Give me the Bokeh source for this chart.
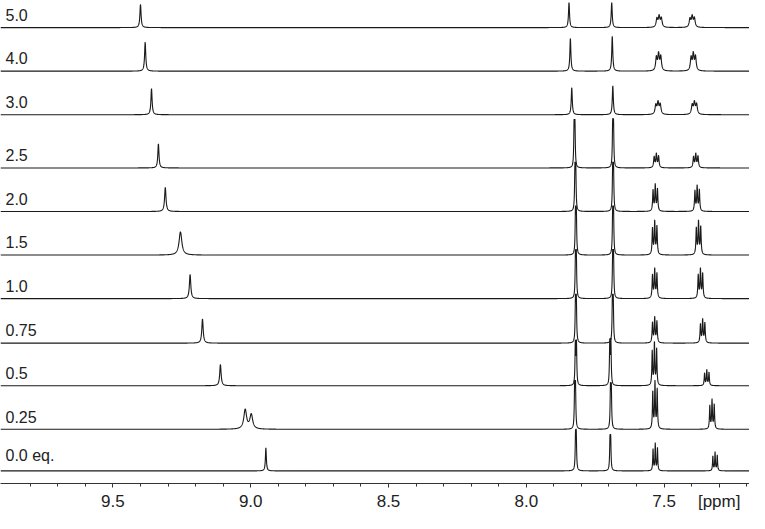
import numpy as np
from bokeh.plotting import figure
from bokeh.models import Range1d, FixedTicker, ColumnDataSource
from bokeh.core.properties import value
from bokeh.embed import file_html
from bokeh.resources import INLINE

# ---- data (ppm, heights in px-like units) ----
row_labels = ["5.0", "4.0", "3.0", "2.5", "2.0", "1.5", "1.0", "0.75", "0.5", "0.25", "0.0 eq."]
row_baseline = [471, 426, 381, 326, 281, 236, 191, 145, 101, 56, 13]

# downfield singlet (shifts with titrant), second component only for 0.25 eq.
nh_ppm = [9.400, 9.383, 9.360, 9.335, 9.310, 9.255, 9.220, 9.175, 9.110, 9.020, 8.945]
nh_height = [24, 30, 27, 25, 25, 24, 25, 25, 22, 20, 24]
nh_width = [0.0025, 0.0025, 0.0025, 0.0025, 0.003, 0.006, 0.003, 0.003, 0.003, 0.006, 0.002]
nh2_ppm = [9.0, 9.0, 9.0, 9.0, 9.0, 9.0, 9.0, 9.0, 9.0, 8.998, 9.0]
nh2_height = [0, 0, 0, 0, 0, 0, 0, 0, 0, 15, 0]

# singlet near 7.83 ppm
ha_ppm = [7.845, 7.840, 7.835, 7.825, 7.822, 7.820, 7.820, 7.820, 7.820, 7.823, 7.820]
ha_height = [26, 34, 28, 50, 50, 50, 50, 50, 50, 50, 40]
# singlet near 7.69 ppm
hb_ppm = [7.690, 7.688, 7.686, 7.685, 7.685, 7.685, 7.685, 7.686, 7.695, 7.693, 7.695]
hb_height = [26, 36, 30, 50, 50, 50, 50, 50, 52, 48, 35]
# small splitting of the two singlets (0 = single line)
sing_split = [0, 0, 0, 0.003, 0.003, 0.003, 0.003, 0.003, 0.004, 0.003, 0.0025]
# multiplet near 7.53 ppm
hc_ppm = [7.518, 7.520, 7.522, 7.528, 7.532, 7.534, 7.534, 7.534, 7.535, 7.533, 7.532]
hc_height = [11, 17, 12, 14, 27, 34, 30, 26, 44, 48, 28]
# multiplet upfield (shifts with titrant)
hd_ppm = [7.398, 7.394, 7.390, 7.385, 7.380, 7.375, 7.368, 7.360, 7.345, 7.326, 7.315]
hd_height = [11, 17, 12, 14, 26, 34, 30, 24, 16, 30, 19]
mult_width = [0.0032, 0.003, 0.0032, 0.0022, 0.0018, 0.0018, 0.0018, 0.0018, 0.0016, 0.0016, 0.0014]
mult_split = 0.008
mult_ratio = [0.85, 1.0, 0.8]

x_left, x_right = 9.908, 7.19
major_ticks = [9.5, 9.0, 8.5, 8.0, 7.5, 7.3]
minor_ticks = [9.8, 9.7, 9.6, 9.4, 9.3, 9.2, 9.1, 8.9, 8.8, 8.7, 8.6,
               8.4, 8.3, 8.2, 8.1, 7.9, 7.8, 7.7, 7.6, 7.4, 7.2]
tick_text = {9.5: "9.5", 9.0: "9.0", 8.5: "8.5", 8.0: "8.0", 7.5: "7.5", 7.3: "[ppm]"}

ppm = np.linspace(x_left, x_right, 5000)


def lor(x0, h, w):
    return h / (1.0 + ((ppm - x0) / w) ** 2)


p = figure(width=749, height=513, output_backend="svg", toolbar_location=None,
           x_range=Range1d(x_left, x_right), y_range=Range1d(0, 499),
           min_border_left=0, min_border_right=0, min_border_top=0,
           tools="")
p.outline_line_color = None
p.grid.visible = False
p.yaxis.visible = False
p.background_fill_color = "white"
p.border_fill_color = "white"

line_color = "#1a1a1a"
for i, lab in enumerate(row_labels):
    y = np.full_like(ppm, row_baseline[i], dtype=float)
    y += lor(nh_ppm[i], nh_height[i], nh_width[i])
    if nh2_height[i] > 0:
        y += lor(nh2_ppm[i], nh2_height[i], nh_width[i])
    if sing_split[i] > 0:
        for s in (-0.5, 0.5):
            y += lor(ha_ppm[i] + s * sing_split[i], ha_height[i] * 0.85, 0.0015)
            y += lor(hb_ppm[i] + s * sing_split[i], hb_height[i] * 0.85, 0.0015)
    else:
        y += lor(ha_ppm[i], ha_height[i], 0.0022)
        y += lor(hb_ppm[i], hb_height[i], 0.0022)
    for k, r in enumerate(mult_ratio):
        off = (k - 1) * mult_split
        y += lor(hc_ppm[i] + off, hc_height[i] * r, mult_width[i])
        y += lor(hd_ppm[i] + off, hd_height[i] * r, mult_width[i])
    p.line(ppm, y, line_color=line_color, line_width=1.1)

lab_src = ColumnDataSource(dict(x=[x_left] * len(row_labels),
                                y=[b + 7 for b in row_baseline],
                                t=row_labels))
p.text(x="x", y="y", text="t", source=lab_src, x_offset=5,
       text_font=value("Liberation Sans"), text_font_size="16px",
       text_color="#222222", text_baseline="bottom", text_align="left")

ax = p.xaxis[0]
ax.ticker = FixedTicker(ticks=major_ticks, minor_ticks=minor_ticks)
ax.major_label_overrides = tick_text
ax.major_label_text_font = "Liberation Sans"
ax.major_label_text_font_size = "17px"
ax.major_label_text_color = "#222222"
ax.major_label_standoff = 4
ax.axis_line_color = "#333333"
ax.axis_line_width = 1
ax.major_tick_line_color = "#333333"
ax.minor_tick_line_color = "#333333"
ax.major_tick_out = 4
ax.major_tick_in = 0
ax.minor_tick_out = 3
ax.minor_tick_in = 0

open("out.html", "w").write(file_html(p, INLINE))
